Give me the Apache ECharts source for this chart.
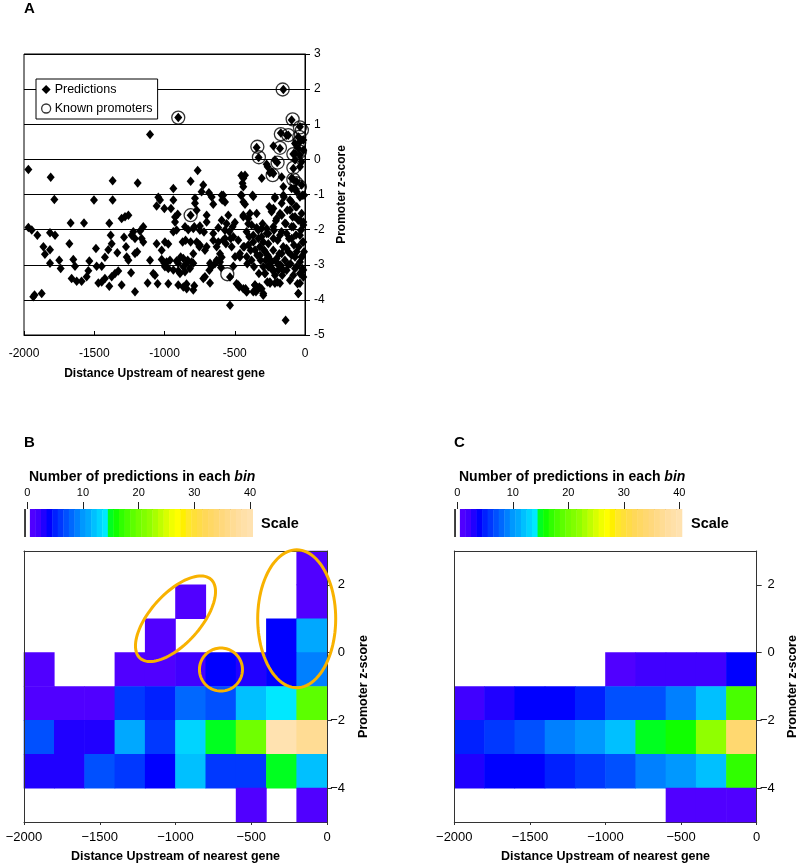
<!DOCTYPE html>
<html><head><meta charset="utf-8">
<script src="https://cdn.jsdelivr.net/npm/echarts@6/dist/echarts.min.js"></script>
<style>html,body{margin:0;padding:0;background:#fff}#c{width:797px;height:865px}</style>
</head><body><div id="c"></div>
<script>
const FONT = '"Liberation Sans", Arial, Helvetica, sans-serif';

// ---------- Panel A data: [distance upstream, promoter z-score] ----------
const predictions = [
[-1969,-0.29],[-1810,-0.51],[-1369,-0.61],[-1784,-1.14],[-1502,-1.16],[-1369,-1.16],
[-1969,-1.94],[-1945,-2.01],[-1905,-2.16],[-1815,-2.09],[-1779,-2.16],[-1668,-1.81],[-1573,-1.81],[-1393,-1.82],[-1305,-1.68],[-1281,-1.63],[-1257,-1.59],
[-1862,-2.49],[-1851,-2.70],[-1815,-2.57],[-1677,-2.40],[-1488,-2.54],[-1383,-2.16],[-1376,-2.40],[-1400,-2.57],[-1424,-2.79],[-1336,-2.66],[-1288,-2.22],[-1274,-2.49],
[-1815,-2.96],[-1749,-2.87],[-1739,-3.11],[-1649,-2.85],[-1637,-3.04],[-1535,-2.89],[-1483,-3.04],[-1447,-3.04],
[-1661,-3.39],[-1625,-3.47],[-1590,-3.47],[-1554,-3.34],[-1542,-3.17],[-1471,-3.52],[-1447,-3.49],[-1424,-3.39],[-1376,-3.34],[-1352,-3.25],[-1329,-3.18],[-1393,-3.61],[-1305,-3.58],[-1269,-2.78],
[-1934,-3.91],[-1925,-3.86],[-1874,-3.82],[-1257,-2.87],[-1238,-3.23],
[-1103,0.71],[-902,1.19],
[-764,-0.32],[-1191,-0.67],[-814,-0.62],[-937,-0.83],[-724,-0.73],[-736,-0.92],[-684,-0.95],
[-1044,-1.08],[-664,-1.07],[-783,-1.11],[-937,-1.16],[-1056,-1.33],[-1001,-1.40],[-783,-1.25],[-906,-1.56],[-814,-1.59],[-771,-1.45],[-653,-1.28],[-700,-1.59],[-925,-1.78],[-854,-1.92],[-795,-1.97],[-748,-1.90],[-1151,-1.92],
[-914,-2.01],[-1174,-2.04],[-1234,-2.16],[-1210,-2.25],[-1151,-2.35],[-1056,-2.40],[-997,-2.35],[-973,-2.41],[-850,-2.30],[-771,-2.35],[-748,-2.44],[-700,-2.49],[-653,-2.30],[-1210,-2.68],[-1103,-2.87],[-1020,-2.85],[-1001,-2.96],[-961,-2.87],[-902,-2.96],[-842,-2.96],[-795,-2.96],[-866,-2.82],[-676,-2.96],[-629,-2.87],
[-866,-3.06],[-973,-3.11],[-937,-3.15],[-902,-3.17],[-890,-3.25],[-854,-3.20],[-819,-3.11],[-712,-3.34],[-1080,-3.25],[-1068,-3.30],[-1120,-3.52],[-1049,-3.54],[-973,-3.54],[-902,-3.58],[-866,-3.63],[-842,-3.68],[-795,-3.72],[-1210,-3.77],[-724,-3.39],[-676,-3.52],
[-1020,-2.59],[-985,-2.92],[-954,-1.40],[-937,-2.06],[-914,-2.89],[-885,-2.78],[-871,-2.35],[-835,-2.87],[-831,-2.00],[-814,-2.35],[-807,-2.92],[-788,-1.92],[-795,-2.69],[-759,-2.40],[-752,-2.49],[-748,-2.02],[-719,-2.07],[-712,-2.59],[-700,-1.78],[-681,-3.16],[-665,-3.06],[-653,-2.11],[-641,-2.97],[-629,-2.49],[-1163,-2.25],[-1222,-2.06],[-1032,-1.16],[-788,-3.60],[-1194,-2.63],[-997,-3.06],[-925,-1.64],[-843,-3.55],
[-617,-1.95],[-605,-2.69],[-598,-3.08],[-593,-2.79],[-589,-1.16],[-582,-2.30],[-582,-1.02],[-570,-2.02],[-563,-2.40],[-558,-1.83],[-534,-3.35],[-534,-4.15],[-539,-2.06],[-529,-2.25],[-522,-2.49],[-515,-1.92],[-510,-3.04],[-499,-1.80],[-487,-3.54],[-475,-2.30],[-468,-3.63],[-463,-2.78],[-456,-1.02],[-439,-1.59],[-439,-1.21],[-432,-2.49],[-423,-3.68],[-416,-3.77],[-416,-2.06],[-411,-2.97],[-404,-1.83],[-397,-2.20],[-392,-1.54],[-387,-2.59],[-380,-2.87],[-373,-1.02],[-368,-2.35],[-363,-3.06],[-356,-3.58],[-349,-3.77],[-344,-1.54],[-340,-2.73],[-332,-2.02],[-328,-3.25],[-325,-3.63],[-321,-2.49],[-316,-2.87],[-309,-3.68],[-309,-2.20],[-302,-1.83],[-297,-3.87],[-297,-3.06],[-290,-2.59],[-285,-3.25],[-280,-2.87],[-273,-2.11],[-268,-3.49],[-266,-2.73],[-261,-2.40],[-257,-3.01],[-254,-1.35],[-250,-3.49],[-245,-2.87],[-238,-1.49],[-231,-3.16],[-226,-2.59],[-221,-2.02],[-214,-1.07],[-207,-1.75],[-202,-2.92],[-197,-3.49],[-195,-2.30],[-190,-3.16],[-183,-2.69],[-178,-1.54],[-174,-3.01],[-167,-2.06],[-162,-3.30],[-155,-2.49],[-150,-1.07],[-143,-2.87],[-138,-4.58],[-136,-1.83],[-131,-3.16],[-126,-1.45],[-119,-2.63],[-114,-2.25],[-107,-1.16],[-107,-3.44],[-103,-2.97],[-95,-1.92],[-88,-1.64],[-83,-3.30],[-79,-2.44],[-71,-2.78],[-67,-1.35],[-64,-2.15],[-60,-3.06],[-53,-3.54],[-48,-3.82],[-48,-1.73],[-45,-2.49],[-36,-2.92],[-36,-1.07],[-31,-3.25],[-29,-2.02],[-24,-1.54],[-24,-2.78],[-19,-3.11],[-17,-2.35],[-12,-1.78],[-12,-3.35],[-7,-1.02],[-7,-2.63],
[-439,-0.78],[-593,-1.02],[-451,-1.02],[-368,-1.06],[-214,-1.11],[-154,-1.02],[-95,-0.83],[-59,-0.92],[-19,-1.02],
[-569,-1.21],[-427,-1.28],[-225,-1.40],[-166,-1.25],[-95,-1.21],[-59,-1.35],[-107,-1.44],[-439,-1.63],[-403,-1.68],[-593,-1.73],[-546,-1.59],[-202,-1.68],[-166,-1.59],[-71,-1.63],[-36,-1.73],[-12,-1.87],[-225,-1.92],[-143,-1.82],[-83,-1.92],[-380,-1.87],[-344,-1.95],[-308,-1.97],[-273,-1.97],
[-261,-2.11],[-569,-2.25],[-510,-2.20],[-617,-2.35],[-368,-2.16],[-332,-2.25],[-297,-2.35],[-225,-2.25],[-178,-2.16],[-131,-2.11],[-95,-2.25],[-36,-2.16],[-12,-2.35],[-439,-2.49],[-403,-2.44],[-356,-2.58],[-463,-2.68],[-498,-2.77],[-605,-2.92],[-415,-2.77],[-320,-2.73],[-285,-2.63],[-261,-2.77],[-237,-2.92],[-202,-2.82],[-166,-2.68],[-131,-2.54],[-95,-2.73],[-59,-2.63],[-24,-2.77],
[-261,-3.06],[-225,-3.15],[-190,-3.01],[-154,-3.15],[-119,-3.01],[-71,-3.11],[-36,-3.25],[-12,-3.15],[-285,-3.25],[-214,-3.30],
[-475,-3.58],[-439,-3.68],[-415,-3.77],[-356,-3.58],[-332,-3.68],[-297,-3.82],[-368,-3.77],[-249,-3.53],[-214,-3.53],[-178,-3.53],[-36,-3.53],[-47,-3.82],
[-154,1.99],[-95,1.12],[-36,0.93],[-131,0.69],[-47,0.64],[-36,0.50],[-71,0.45],[-12,0.55],[-344,0.34],[-225,0.38],[-178,0.31],[-47,0.31],[-12,0.26],[-71,0.17],[-36,0.12],[-214,-0.02],[-71,-0.02],[-24,-0.07],[-266,-0.21],[-237,-0.35],[-83,-0.26],[-36,-0.21],[-427,-0.45],[-439,-0.54],[-308,-0.54],[-225,-0.40],[-166,-0.50],[-95,-0.54],[-59,-0.64],[-24,-0.73],[-154,-0.78],[-71,-0.83],[-172,0.75],[-119,0.69],
[-453,-0.46],[-445,-0.68],[-250,-0.38],[-273,-0.14],[-330,0.05],[-198,-0.09],[-83,-0.57],[-83,0.15]
];

const knownPromoters = [
[-159,1.99],[-902,1.19],[-88,1.14],[-36,0.91],[-22,0.83],[-172,0.72],[-119,0.69],[-41,0.64],[-339,0.36],[-178,0.33],[-41,0.47],[-328,0.06],[-195,-0.09],[-83,0.15],[-36,0.22],[-83,-0.24],[-230,-0.45],[-83,-0.57],[-60,-0.68],[-36,-0.78],[-814,-1.59],[-553,-3.27]
];

// ---------- Panels B and C: binned counts ----------
const binStartX = [-2000,-1800,-1600,-1400,-1200,-1000,-800,-600,-400,-200];
const rowLowY = [2,1,0,-1,-2,-3,-4,-5];   // lower edge of each z-score row, top to bottom
const countsB = [
[0,0,0,0,0,0,0,0,0,1],
[0,0,0,0,0,1,0,0,0,1],
[0,0,0,0,1,0,0,0,4,11],
[1,0,0,1,1,2,4,3,4,9],
[1,1,1,6,5,8,7,12,14,19],
[7,3,3,11,6,13,15,20,40,37],
[3,3,7,6,4,12,6,6,15,12],
[0,0,0,0,0,0,0,1,0,1]
];
const countsC = [
[0,0,0,0,0,0,0,0,0,0],
[0,0,0,0,0,0,0,0,0,0],
[0,0,0,0,0,0,0,0,0,0],
[0,0,0,0,0,1,2,2,2,4],
[2,3,4,4,5,7,7,9,12,18],
[5,6,7,9,10,12,15,16,22,34],
[3,4,4,5,6,7,9,10,12,17],
[0,0,0,0,0,0,0,1,1,1]
];
const scaleValues = [0,1,2,3,4,5,6,7,8,9,10,11,12,13,14,15,16,17,18,19,20,21,22,23,24,25,26,27,28,29,30,31,32,33,34,35,36,37,38,39,40];
const scaleTicks = [0,10,20,30,40];
const heatZTicks = [-4,-2,0,2];

// annotation ellipses on panel B (centres in data units)
const ringCx = [-1000,-700,-200];
const ringCy = [1,-0.5,1];

// ---------- styles ----------
const palette = ['#FFFFFF','#5000FF','#4000FF','#2000FF','#0000FF','#0020FF','#0038FF','#0050FF','#0068FF','#0080FF',
 '#0098FF','#00A8FF','#00C0FF','#00D4FF','#00E8FF','#00FF20','#10FF00','#30FF00','#48FF00','#5CFF00',
 '#70FF00','#80FF00','#90FF00','#A8FF00','#C0FF00','#D8FF00','#F0FF00','#FFFF00','#FFF000','#FFE828',
 '#FFE038','#FFDC48','#FFD858','#FFD864','#FFD870','#FFD87C','#FFDA88','#FFDC94','#FFDEA0','#FFE0A8','#FFE2B0'];
const ringPx = [[53,25,48],[21.5,21.5,0],[39,69,0]]; // semi-axes (px) and tilt (deg)
const BIN_W = 200;

function cellsFrom(counts){
  const out = [];
  counts.forEach((row,i)=>row.forEach((n,j)=>{ if(n>0) out.push([binStartX[j], rowLowY[i], n]); }));
  return out;
}
function heatItem(params, api){
  const x0 = api.value(0), y0 = api.value(1), n = api.value(2);
  const p1 = api.coord([x0, y0+1]);
  const p2 = api.coord([x0+BIN_W, y0]);
  return {type:'rect', shape:{x:p1[0]-0.3, y:p1[1]-0.3, width:p2[0]-p1[0]+0.6, height:p2[1]-p1[1]+0.6},
          style:{fill: palette[Math.round(n)]}};
}
function scaleItem(params, api){
  const v = api.value(0);
  const p1 = api.coord([v-0.5, 1]);
  const p2 = api.coord([v+0.5, 0]);
  const rect = {type:'rect', shape:{x:p1[0]-0.2, y:p1[1], width:p2[0]-p1[0]+0.4, height:p2[1]-p1[1]}, style:{fill: palette[v]}};
  if (v === 0) {
    return {type:'group', children:[rect, {type:'line', shape:{x1:p1[0]+0.5, y1:p1[1], x2:p1[0]+0.5, y2:p2[1]}, style:{stroke:'#000', lineWidth:1.5}}]};
  }
  return rect;
}
function ringItem(params, api){
  const i = params.dataIndex;
  const c = api.coord([api.value(0), api.value(1)]);
  const [a,b,deg] = ringPx[i];
  const t = -deg*Math.PI/180;
  const pts = [];
  for (let k=0;k<96;k++){
    const u = k/96*2*Math.PI;
    const ex = a*Math.cos(u), ey = b*Math.sin(u);
    pts.push([c[0]+ex*Math.cos(t)-ey*Math.sin(t), c[1]+ex*Math.sin(t)+ey*Math.cos(t)]);
  }
  return {type:'polygon', shape:{points:pts}, style:{fill:'none', stroke:'#F8B200', lineWidth:3}};
}
const minusFmt = v => String(v).replace('-', '\u2212');
const plainFmt = v => String(v);

const heatGridB = {left:24, top:551, width:303, height:271, outerBoundsMode:'none', containLabel:false};
const heatGridC = {left:454.3, top:551, width:302.4, height:271, outerBoundsMode:'none', containLabel:false};

function heatAxes(gridIndex, gap){
  const xs = [
    {type:'value', gridIndex, min:-2000, max:0, interval:500, position:'bottom',
     axisLine:{onZero:false, lineStyle:{color:'#333', width:1}}, axisTick:{length:3, lineStyle:{color:'#333'}},
     axisLabel:{color:'#000', fontSize:13, margin:9, fontFamily:FONT, formatter:minusFmt},
     splitLine:{show:false},
     name:'Distance Upstream of nearest gene', nameLocation:'middle', nameGap:28,
     nameTextStyle:{color:'#000', fontSize:12.5, fontWeight:'bold', fontFamily:FONT}},
    {type:'value', gridIndex, min:-2000, max:0, position:'top', z:10,
     axisLine:{onZero:false, lineStyle:{color:'#333', width:1}}, axisTick:{show:false}, axisLabel:{show:false}, splitLine:{show:false}}
  ];
  const ys = [
    {type:'value', gridIndex, min:-5, max:3, interval:1, position:'right', z:10,
     axisLine:{onZero:false, lineStyle:{color:'#333', width:1}},
     axisTick:{length:5, customValues:heatZTicks, lineStyle:{color:'#333'}},
     axisLabel:{color:'#000', fontSize:13, margin:18, align:'right', fontFamily:FONT, formatter:minusFmt, customValues:heatZTicks},
     splitLine:{show:false},
     name:'Promoter z-score', nameLocation:'middle', nameGap:gap,
     nameTextStyle:{color:'#000', fontSize:12.5, fontWeight:'bold', fontFamily:FONT}},
    {type:'value', gridIndex, min:-5, max:3, position:'left', z:10,
     axisLine:{onZero:false, lineStyle:{color:'#333', width:1}}, axisTick:{show:false}, axisLabel:{show:false}, splitLine:{show:false}}
  ];
  return {xs, ys};
}
function scaleAxes(gridIndex){
  return {
    x:{type:'value', gridIndex, min:0, max:40, interval:10, position:'top',
       axisLine:{onZero:false, lineStyle:{color:'#222', width:1}}, axisTick:{length:7, lineStyle:{color:'#222'}},
       axisLabel:{color:'#000', fontSize:11, margin:11, fontFamily:FONT, customValues:scaleTicks},
       splitLine:{show:false}},
    y:{type:'value', gridIndex, min:0, max:1, show:false}
  };
}

const hb = heatAxes(2, 30), hc = heatAxes(4, 29);
const sb = scaleAxes(1), sc = scaleAxes(3);

const titleStyle = {color:'#000', fontFamily:FONT, fontWeight:'bold', fontSize:15};
const scaleTitleStyle = {color:'#000', fontFamily:FONT, fontWeight:'bold', fontSize:14,
  rich:{i:{fontStyle:'italic', fontWeight:'bold', fontSize:14, fontFamily:FONT, color:'#000'}}};

const option = {
  animation:false,
  backgroundColor:'#fff',
  textStyle:{fontFamily:FONT},
  title:[
    {text:'A', left:24, top:1, padding:0, textStyle:titleStyle},
    {text:'B', left:24, top:435, padding:0, textStyle:titleStyle},
    {text:'C', left:454, top:435, padding:0, textStyle:titleStyle},
    {text:'Number of predictions in each {i|bin}', left:29, top:470, padding:0, textStyle:scaleTitleStyle},
    {text:'Number of predictions in each {i|bin}', left:459, top:470, padding:0, textStyle:scaleTitleStyle},
    {text:'Scale', left:261, top:516, padding:0, textStyle:{color:'#000', fontFamily:FONT, fontWeight:'bold', fontSize:14.5}},
    {text:'Scale', left:691, top:516, padding:0, textStyle:{color:'#000', fontFamily:FONT, fontWeight:'bold', fontSize:14.5}}
  ],
  legend:{
    left:36, top:79, orient:'vertical', padding:[4,5,4,5], itemGap:6, itemWidth:9, itemHeight:9,
    borderColor:'#000', borderWidth:1, backgroundColor:'#fff', borderRadius:0,
    textStyle:{color:'#000', fontSize:12.5, fontFamily:FONT, padding:[0,0,0,-1]},
    data:[
      {name:'Predictions', icon:'diamond', itemStyle:{color:'#000'}},
      {name:'Known promoters', icon:'circle', itemStyle:{color:'rgba(0,0,0,0)', borderColor:'#000', borderWidth:1.3}}
    ]
  },
  grid:[
    {left:24, top:54, width:281, height:281, show:true, borderColor:'#000', borderWidth:1, backgroundColor:'rgba(0,0,0,0)', outerBoundsMode:'none', containLabel:false},
    {left:27.3, top:509, width:222.7, height:28, outerBoundsMode:'none', containLabel:false},
    heatGridB,
    {left:457.3, top:509, width:222, height:28, outerBoundsMode:'none', containLabel:false},
    heatGridC
  ],
  xAxis:[
    {type:'value', gridIndex:0, min:-2000, max:0, interval:500,
     axisLine:{onZero:false, lineStyle:{color:'#000', width:1}}, axisTick:{inside:true, length:4, lineStyle:{color:'#000'}},
     axisLabel:{color:'#000', fontSize:12, margin:13, fontFamily:FONT, formatter:plainFmt}, splitLine:{show:false},
     name:'Distance Upstream of nearest gene', nameLocation:'middle', nameGap:33,
     nameTextStyle:{color:'#000', fontSize:12, fontWeight:'bold', fontFamily:FONT}},
    sb.x, hb.xs[0], hb.xs[1], sc.x, hc.xs[0], hc.xs[1]
  ],
  yAxis:[
    {type:'value', gridIndex:0, min:-5, max:3, interval:1, position:'right',
     axisLine:{onZero:false, lineStyle:{color:'#000', width:1}}, axisTick:{length:5, lineStyle:{color:'#000'}},
     axisLabel:{color:'#000', fontSize:12, margin:9, fontFamily:FONT, formatter:plainFmt},
     splitLine:{show:true, lineStyle:{color:'#000', width:1}},
     name:'Promoter z-score', nameLocation:'middle', nameGap:31,
     nameTextStyle:{color:'#000', fontSize:12, fontWeight:'bold', fontFamily:FONT}},
    sb.y, hb.ys[0], hb.ys[1], sc.y, hc.ys[0], hc.ys[1]
  ],
  series:[
    {name:'Predictions', type:'scatter', xAxisIndex:0, yAxisIndex:0, symbol:'diamond', symbolSize:[8,9.5],
     itemStyle:{color:'#000', opacity:1}, data:predictions, z:3},
    {name:'Known promoters', type:'scatter', xAxisIndex:0, yAxisIndex:0, symbol:'circle', symbolSize:13,
     itemStyle:{color:'rgba(0,0,0,0)', borderColor:'#000', borderWidth:1.3}, data:knownPromoters, z:4},
    {type:'custom', xAxisIndex:1, yAxisIndex:1, renderItem:scaleItem, clip:false, data:scaleValues.map(v=>[v])},
    {type:'custom', xAxisIndex:4, yAxisIndex:4, renderItem:scaleItem, clip:false, data:scaleValues.map(v=>[v])},
    {type:'custom', xAxisIndex:2, yAxisIndex:2, renderItem:heatItem, data:cellsFrom(countsB)},
    {type:'custom', xAxisIndex:5, yAxisIndex:5, renderItem:heatItem, data:cellsFrom(countsC)},
    {type:'custom', xAxisIndex:2, yAxisIndex:2, renderItem:ringItem, clip:false, z:20,
     data:ringCx.map((x,i)=>[x, ringCy[i]])}
  ]
};
const chart = echarts.init(document.getElementById('c'), null, {renderer:'canvas'});
chart.setOption(option);
</script></body></html>
